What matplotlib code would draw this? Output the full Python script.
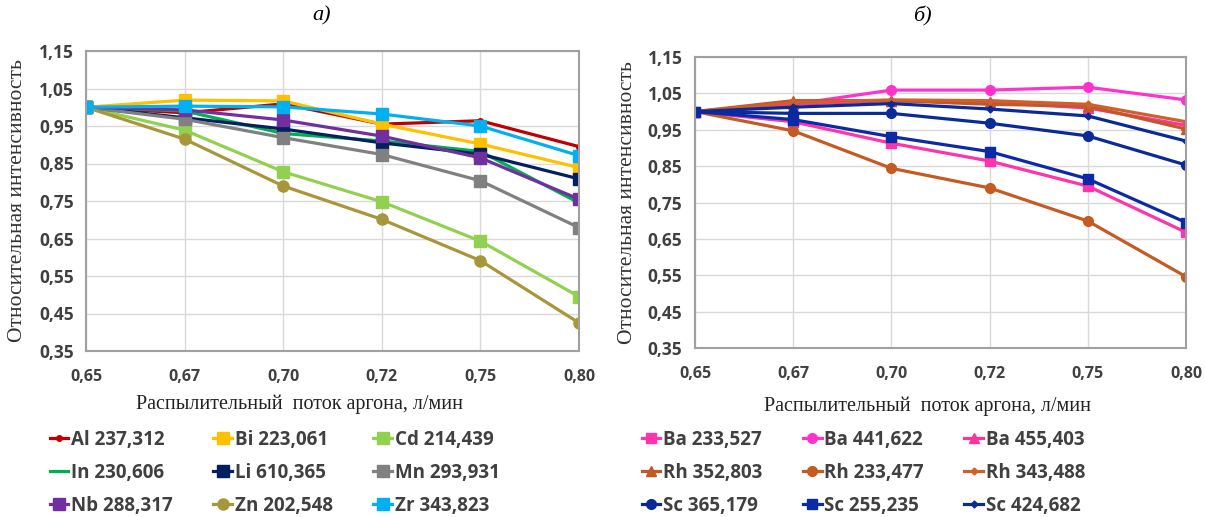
import matplotlib
matplotlib.use("Agg")
import matplotlib.pyplot as plt

# flow values (categorical x axis)
flow = ["0,65", "0,67", "0,70", "0,72", "0,75", "0,80"]
yticks = [0.35, 0.45, 0.55, 0.65, 0.75, 0.85, 0.95, 1.05, 1.15]

# --- a) ---
al = [1.000, 0.985, 1.009, 0.955, 0.964, 0.895]
bi = [1.000, 1.019, 1.017, 0.955, 0.902, 0.839]
cd = [1.000, 0.939, 0.828, 0.748, 0.643, 0.495]
in_ = [1.000, 0.990, 0.930, 0.910, 0.882, 0.745]
li = [1.000, 0.972, 0.942, 0.905, 0.875, 0.809]
mn = [1.000, 0.968, 0.919, 0.874, 0.804, 0.679]
nb = [1.000, 0.993, 0.966, 0.923, 0.865, 0.755]
zn = [1.000, 0.915, 0.790, 0.701, 0.591, 0.425]
zr = [1.000, 1.003, 1.001, 0.982, 0.950, 0.871]

# --- б) ---
ba233 = [1.000, 0.972, 0.913, 0.864, 0.795, 0.668]
ba441 = [1.000, 1.020, 1.059, 1.059, 1.067, 1.032]
ba455 = [1.000, 1.020, 1.030, 1.025, 1.010, 0.962]
rh352 = [1.000, 1.030, 1.030, 1.020, 1.015, 0.952]
rh233 = [1.000, 0.947, 0.844, 0.790, 0.699, 0.546]
rh343 = [1.000, 1.025, 1.032, 1.030, 1.020, 0.972]
sc365 = [1.000, 0.995, 0.995, 0.968, 0.933, 0.853]
sc255 = [1.000, 0.978, 0.931, 0.890, 0.815, 0.695]
sc424 = [1.000, 1.012, 1.022, 1.007, 0.988, 0.919]

left_series = [
    ("Al 237,312", al, "#C00000", "o", 4),
    ("Bi 223,061", bi, "#FFC000", "s", 8),
    ("Cd 214,439", cd, "#92D050", "s", 8),
    ("In 230,606", in_, "#00B050", "None", 0),
    ("Li 610,365", li, "#002060", "s", 8),
    ("Mn 293,931", mn, "#808080", "s", 8),
    ("Nb 288,317", nb, "#7030A0", "s", 8),
    ("Zn 202,548", zn, "#A8963A", "o", 8),
    ("Zr 343,823", zr, "#00B0F0", "s", 8),
]
right_series = [
    ("Ba 233,527", ba233, "#FF33AA", "s", 7),
    ("Ba 441,622", ba441, "#FF33CC", "o", 7),
    ("Ba 455,403", ba455, "#FF3399", "^", 7),
    ("Rh 352,803", rh352, "#C0582A", "^", 7),
    ("Rh 233,477", rh233, "#C55A22", "o", 7),
    ("Rh 343,488", rh343, "#D0602A", "D", 3.5),
    ("Sc 365,179", sc365, "#0A2A9A", "o", 7),
    ("Sc 255,235", sc255, "#0A2AA8", "s", 7),
    ("Sc 424,682", sc424, "#0A2A9A", "D", 3.5),
]

W, H = 1205, 517
fig = plt.figure(figsize=(W / 100, H / 100), dpi=100)

serif = ["Liberation Serif", "DejaVu Serif"]
sans = ["Open Sans", "DejaVu Sans"]


def draw(ax, series):
    x = list(range(len(flow)))
    for label, vals, col, mk, ms in series:
        ax.plot(x, vals, color=col, lw=2.3, marker=mk, ms=ms, label=label)
    ax.set_xlim(0, len(flow) - 1)
    ax.set_ylim(0.35, 1.15)
    ax.set_xticks(x)
    ax.set_xticklabels(flow, fontfamily=sans, fontweight="bold",
                       fontsize=11.5, color="#404040")
    ax.set_yticks(yticks)
    ax.set_yticklabels([f"{v:.2f}".replace(".", ",") for v in yticks],
                       fontfamily=sans, fontweight="bold", fontsize=12.5,
                       color="#404040")
    ax.tick_params(length=0, pad=9)
    ax.tick_params(axis="x", pad=13)
    ax.grid(True, color="#d9d9d9", lw=1)
    ax.set_axisbelow(True)
    for s in ax.spines.values():
        s.set_color("#a0a0a0")
        s.set_linewidth(1.5)
    ax.set_ylabel("Относительная интенсивность", fontfamily=serif,
                  fontsize=15.5, color="#333333")


def legend(series, x0, ax):
    h, l = ax.get_legend_handles_labels()
    order = [0, 3, 6, 1, 4, 7, 2, 5, 8]
    fig.legend([h[i] for i in order], [l[i] for i in order], ncol=3,
               loc="upper left", bbox_to_anchor=(x0 / W, 1 - 424 / H),
               frameon=False, handlelength=1.0, handletextpad=0.15,
               columnspacing=2.15, labelspacing=0.7,
               borderaxespad=0.0, borderpad=0.3,
               prop={"family": sans, "weight": "bold", "size": 13.5},
               labelcolor="#404040")


# left chart
ax1 = fig.add_axes([86 / W, 1 - 351 / H, 493 / W, 300 / H])
draw(ax1, left_series)
ax1.yaxis.set_label_coords((27 - 86) / 493, 0.5)
ax1.set_xlabel("Распылительный  поток аргона, л/мин", fontfamily=serif,
               fontsize=14.5, color="#222222")
ax1.xaxis.set_label_coords((300 - 86) / 493, -(394 - 351) / 300)
legend(left_series, 44, ax1)
fig.text(322 / W, 1 - 16 / H, "а)", fontfamily=serif, style="italic",
         fontsize=16, ha="center", va="center")

# right chart
ax2 = fig.add_axes([695 / W, 1 - 348 / H, 491 / W, 291 / H])
draw(ax2, right_series)
ax2.yaxis.set_label_coords((637 - 695) / 491, 0.5)
ax2.set_xlabel("Распылительный  поток аргона, л/мин", fontfamily=serif,
               fontsize=14.5, color="#222222")
ax2.xaxis.set_label_coords((928 - 695) / 491, -(396 - 348) / 291)
legend(right_series, 636, ax2)
fig.text(922 / W, 1 - 16 / H, "б)", fontfamily=serif, style="italic",
         fontsize=16, ha="center", va="center")

fig.savefig("out.png", dpi=100)
